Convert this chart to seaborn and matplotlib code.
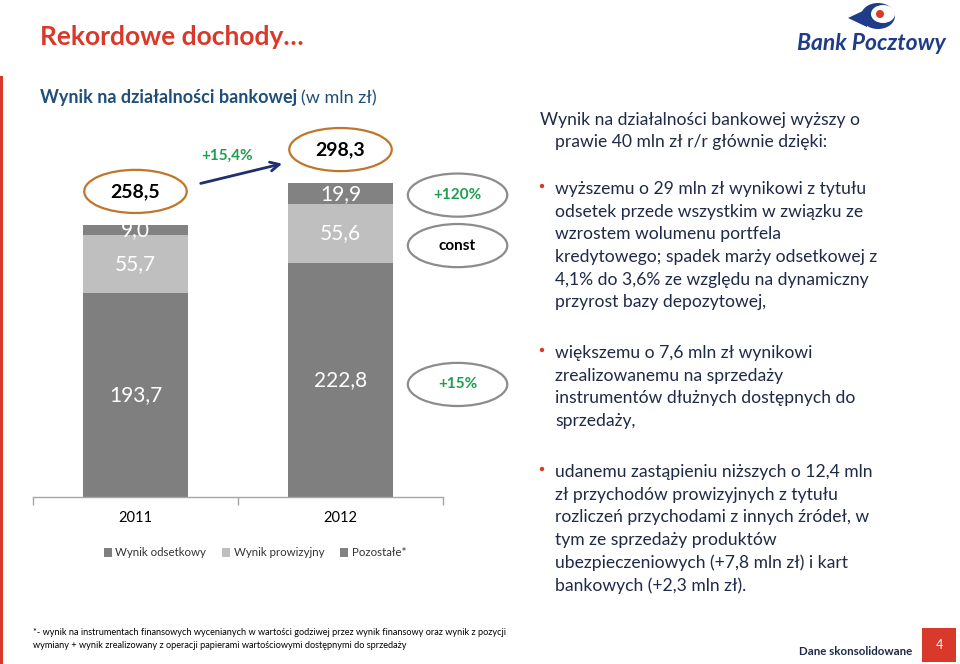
import matplotlib
matplotlib.use("Agg")
import matplotlib.pyplot as plt
from matplotlib.patches import Ellipse, Patch, Rectangle, Circle, Polygon
from matplotlib.transforms import Affine2D
import pandas as pd
import seaborn as sns

# dane (mln zł)
years = ['2011', '2012']
wynik_odsetkowy = [193.7, 222.8]
wynik_prowizyjny = [55.7, 55.6]
pozostale = [9.0, 19.9]
totals = [258.5, 298.3]  # sumy z raportu (z niezaokraglonych danych)
series_names = ['Wynik odsetkowy', 'Wynik prowizyjny', 'Pozostałe*']
change_labels = ['+120%', 'const', '+15%']

RED = '#d9392a'
NAVY = '#1f2a48'
GREEN = '#1e9e4f'
C_ODS = '#7f7f7f'
C_PROW = '#bfbfbf'
C_POZ = '#828282'

sns.set_theme(style='white')
plt.rcParams['font.family'] = ['Lato', 'DejaVu Sans']

def fmt(v):
    return f'{v:.1f}'.replace('.', ',')

df = pd.DataFrame({'rok': years, 'odsetkowy': wynik_odsetkowy,
                   'prowizyjny': wynik_prowizyjny, 'pozostale': pozostale, 'suma': totals})
df['do_prow'] = df['odsetkowy'] + df['prowizyjny']
df['razem'] = df['do_prow'] + df['pozostale']

fig = plt.figure(figsize=(9.6, 6.64), dpi=100)
px = Affine2D().scale(1 / 960, -1 / 664).translate(0, 1) + fig.transFigure

ax = fig.add_axes([33 / 960, 1 - 497 / 664, 410 / 960, 377 / 664])
bw = 0.512
sns.barplot(data=df, x='rok', y='razem', color=C_POZ, width=bw, saturation=1, linewidth=0, ax=ax)
sns.barplot(data=df, x='rok', y='do_prow', color=C_PROW, width=bw, saturation=1, linewidth=0, ax=ax)
sns.barplot(data=df, x='rok', y='odsetkowy', color=C_ODS, width=bw, saturation=1, linewidth=0, ax=ax)
ax.set_xlim(-0.5, 1.5)
ax.set_ylim(0, 358.4)
ax.set_xlabel('')
ax.set_ylabel('')
ax.set_yticks([])
sns.despine(ax=ax, left=True)
ax.spines['bottom'].set_color('#a6a6a6')
ax.spines['bottom'].set_linewidth(1)
ax.set_xticks([-0.5, 0.5, 1.5], minor=True)
ax.tick_params(axis='x', which='minor', length=6, color='#a6a6a6', width=1, direction='out', bottom=True)
ax.tick_params(axis='x', which='major', length=0, pad=10, labelsize=10.5, labelcolor='black')

# etykiety segmentow
for i, row in df.iterrows():
    ax.text(i, row['odsetkowy'] / 2, fmt(row['odsetkowy']), color='white', fontsize=15,
            ha='center', va='center')
    ax.text(i, row['odsetkowy'] + row['prowizyjny'] / 2, fmt(row['prowizyjny']), color='white',
            fontsize=15, ha='center', va='center')
    ax.text(i, row['do_prow'] + row['pozostale'] / 2, fmt(row['pozostale']), color='white',
            fontsize=15, ha='center', va='center')
    # suma w owalu
    yc = row['suma'] + 32
    ax.add_patch(Ellipse((i, yc), 0.5, 41, facecolor='white', edgecolor='#c0762a', lw=1.6, clip_on=False))
    ax.text(i, yc, fmt(row['suma']), fontsize=14, fontweight='bold', color='black',
            ha='center', va='center', clip_on=False)

growth = (totals[1] / totals[0] - 1) * 100
ax.annotate('', xy=(0.729, 317.5), xytext=(0.305, 297.5),
            arrowprops=dict(arrowstyle='->', color='#1f2f6f', lw=2, mutation_scale=16))
ax.text(0.446, 324, '+' + fmt(growth) + '%', color=GREEN, fontsize=11, fontweight='bold',
        ha='center', va='center')

# owale ze zmianami
for lab, yc in zip(change_labels, [287, 239, 107]):
    ax.add_patch(Ellipse((1.571, yc), 0.485, 41, facecolor='white', edgecolor='#8c8c8c', lw=1.6, clip_on=False))
    ax.text(1.571, yc, lab, fontsize=11, fontweight='bold',
            color='black' if lab == 'const' else GREEN, ha='center', va='center', clip_on=False)

handles = [Patch(facecolor=c, edgecolor='none') for c in [C_ODS, C_PROW, C_POZ]]
fig.legend(handles, series_names, loc='center', bbox_to_anchor=(255 / 960, 1 - 553 / 664), ncol=3,
           frameon=False, fontsize=8.3, handlelength=0.7, handleheight=0.7, handletextpad=0.3,
           columnspacing=1.4, labelcolor='#333333')

# tytul i podtytul
fig.text(40, 45, 'Rekordowe dochody…', transform=px, color=RED, fontsize=19, fontweight='bold', va='baseline')
t = fig.text(40, 103, 'Wynik na działalności bankowej', transform=px, color='#1f4e79', fontsize=13,
             fontweight='bold', va='baseline')
bb = t.get_window_extent(fig.canvas.get_renderer())
fig.text(bb.x1 + 4, 103, '(w mln zł)', transform=px, color='#1f4e79', fontsize=13, va='baseline')

# czerwona linia z lewej
fig.add_artist(Rectangle((0, 76), 3, 588, transform=px, facecolor=RED, edgecolor='none'))

# logo
fig.add_artist(Ellipse((878, 16), 34, 26, transform=px, facecolor='#1f3c88', edgecolor='none'))
fig.add_artist(Ellipse((883, 14), 24, 18, transform=px, facecolor='white', edgecolor='none'))
fig.add_artist(Polygon([(848, 18), (867, 9), (867, 27)], transform=px, facecolor='#1f3c88', edgecolor='none'))
fig.add_artist(Circle((880, 14), 4, transform=px, facecolor=RED, edgecolor='none'))
fig.text(871, 50, 'Bank Pocztowy', transform=px, color='#1f3c88', fontsize=16.5, fontweight='bold',
         fontstyle='italic', ha='center', va='baseline')

# tekst po prawej
txt_kw = dict(transform=px, color=NAVY, fontsize=12.6, va='baseline')
fig.text(540, 125, 'Wynik na działalności bankowej wyższy o', **txt_kw)
fig.text(555, 147, 'prawie 40 mln zł r/r głównie dzięki:', **txt_kw)
bullets = [
    (194, ['wyższemu o 29 mln zł wynikowi z tytułu', 'odsetek przede wszystkim w związku ze',
           'wzrostem wolumenu portfela', 'kredytowego; spadek marży odsetkowej z',
           '4,1% do 3,6% ze względu na dynamiczny', 'przyrost bazy depozytowej,']),
    (358, ['większemu o 7,6 mln zł wynikowi', 'zrealizowanemu na sprzedaży',
           'instrumentów dłużnych dostępnych do', 'sprzedaży,']),
    (477, ['udanemu zastąpieniu niższych o 12,4 mln', 'zł przychodów prowizyjnych z tytułu',
           'rozliczeń przychodami z innych źródeł, w', 'tym ze sprzedaży produktów',
           'ubezpieczeniowych (+7,8 mln zł) i kart', 'bankowych (+2,3 mln zł).']),
]
for y0, lines in bullets:
    fig.add_artist(Circle((542, y0 - 8), 2.2, transform=px, facecolor=RED, edgecolor='none'))
    for k, line in enumerate(lines):
        fig.text(555, y0 + k * 22.7, line, **txt_kw)

# stopka
foot_kw = dict(transform=px, color='black', fontsize=6.6, va='baseline')
fig.text(33, 635, '*- wynik na instrumentach finansowych wycenianych w wartości godziwej przez wynik '
         'finansowy oraz wynik z pozycji', **foot_kw)
fig.text(33, 648, 'wymiany + wynik zrealizowany z operacji papierami wartościowymi dostępnymi do sprzedaży',
         **foot_kw)
fig.text(912, 655, 'Dane skonsolidowane', transform=px, color=NAVY, fontsize=8.3, fontweight='bold',
         ha='right', va='baseline')
fig.add_artist(Rectangle((922, 628), 34, 34, transform=px, facecolor=RED, edgecolor='none'))
fig.text(939, 645, '4', transform=px, color='white', fontsize=9, ha='center', va='center')

fig.savefig('out.png', dpi=100)
